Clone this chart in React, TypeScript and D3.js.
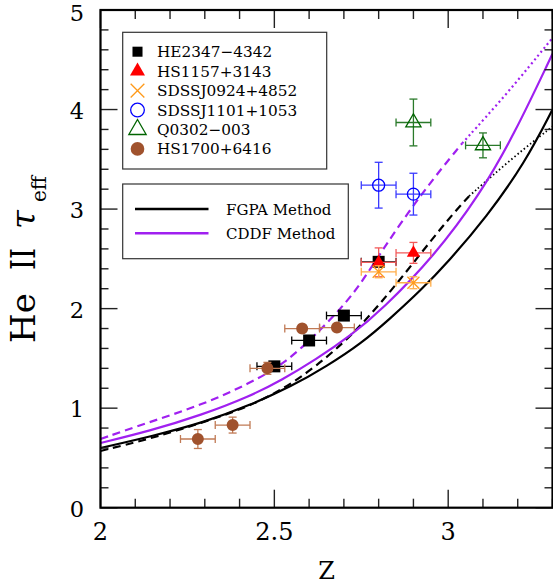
import * as d3 from "d3";

const W = 553;
const H = 586;

// plot frame in px
const X0 = 100.5, X1 = 552.5;
const Y0 = 507.7, Y1 = 10;

// axis
const Z_DOMAIN = [2, 3.3];
const TAU_DOMAIN = [0, 5];
const Z_LABELS = [2, 2.5, 3];
const TAU_LABELS = [0, 1, 2, 3, 4, 5];

// model curves
const fgpaZ = [2.0, 2.15, 2.3, 2.43, 2.55, 2.65, 2.75, 2.833, 2.92, 3.0, 3.11, 3.22, 3.3];
const fgpaTau = [0.6, 0.72, 0.86, 1.03, 1.22, 1.42, 1.65, 1.9, 2.18, 2.47, 2.92, 3.46, 4.0];

const cddfZ = [2.0, 2.14, 2.29, 2.43, 2.52, 2.62, 2.72, 2.81, 2.96, 3.09, 3.19, 3.3];
const cddfTau = [0.65, 0.77, 0.93, 1.12, 1.28, 1.49, 1.73, 1.99, 2.53, 3.14, 3.75, 4.56];

const fgpaDashZ = [2.0, 2.14, 2.29, 2.43, 2.53, 2.62, 2.72, 2.81, 2.9, 3.0, 3.06];
const fgpaDashTau = [0.57, 0.69, 0.85, 1.02, 1.2, 1.42, 1.72, 2.07, 2.46, 2.9, 3.13];
const fgpaDotZ = [3.06, 3.19, 3.3];
const fgpaDotTau = [3.13, 3.53, 3.83];

const cddfDashZ = [2.0, 2.14, 2.29, 2.43, 2.53, 2.62, 2.73, 2.81, 2.93, 3.04];
const cddfDashTau = [0.69, 0.86, 1.03, 1.25, 1.45, 1.74, 2.14, 2.59, 3.19, 3.66];
const cddfDotZ = [3.04, 3.17, 3.3];
const cddfDotTau = [3.66, 4.16, 4.72];

// observations
const he2347Z = [2.5, 2.6, 2.7, 2.8];
const he2347Tau = [1.42, 1.68, 1.93, 2.47];
const he2347Err = [0.04, 0.04, 0.04, 0.04];

const hs1157Z = [2.8, 2.9];
const hs1157Tau = [2.465, 2.56];
const hs1157Err = [0.145, 0.105];

const sdss0924Z = [2.8, 2.9];
const sdss0924Tau = [2.37, 2.26];
const sdss0924Err = [0.06, 0.06];

const sdss1101Z = [2.8, 2.9];
const sdss1101Tau = [3.24, 3.15];
const sdss1101Err = [0.23, 0.21];

const q0302Z = [2.9, 3.1];
const q0302Tau = [3.87, 3.64];
const q0302Err = [0.235, 0.125];

const hs1700Z = [2.28, 2.38, 2.48, 2.58, 2.68];
const hs1700Tau = [0.69, 0.83, 1.4, 1.8, 1.81];
const hs1700Err = [0.095, 0.08, 0.06, 0.04, 0.04];

const Z_ERR = 0.05;

const PURPLE = "#a020f0";
const SERIF = "DejaVu Serif, serif";

type Marker = "square" | "triangle" | "times" | "circle" | "openTriangle" | "dot";

interface Series {
  name: string;
  z: number[];
  tau: number[];
  err: number[];
  marker: Marker;
  color: string;
  barColor: string;
}

const SERIES: Series[] = [
  { name: "HE2347\u22124342", z: he2347Z, tau: he2347Tau, err: he2347Err, marker: "square", color: "#000", barColor: "#000" },
  { name: "HS1157+3143", z: hs1157Z, tau: hs1157Tau, err: hs1157Err, marker: "triangle", color: "#ff0000", barColor: "#f25a5a" },
  { name: "SDSSJ0924+4852", z: sdss0924Z, tau: sdss0924Tau, err: sdss0924Err, marker: "times", color: "#ff9a1a", barColor: "#ffae4a" },
  { name: "SDSSJ1101+1053", z: sdss1101Z, tau: sdss1101Tau, err: sdss1101Err, marker: "circle", color: "#0000ff", barColor: "#3a3aff" },
  { name: "Q0302\u2212003", z: q0302Z, tau: q0302Tau, err: q0302Err, marker: "openTriangle", color: "#006400", barColor: "#2a7a2a" },
  { name: "HS1700+6416", z: hs1700Z, tau: hs1700Tau, err: hs1700Err, marker: "dot", color: "#a0522d", barColor: "#c07a55" },
];

const x = d3.scaleLinear().domain(Z_DOMAIN).range([X0, X1]);
const y = d3.scaleLinear().domain(TAU_DOMAIN).range([Y0, Y1]);

// basis spline keeps the hand-read curves smooth
const line = d3
  .line<[number, number]>()
  .x((d) => x(d[0]))
  .y((d) => y(d[1]))
  .curve(d3.curveBasis);

const zip = (a: number[], b: number[]) => a.map((v, i) => [v, b[i]] as [number, number]);

// symbol path centred on 0,0
function symbolPath(m: Marker, scale = 1): { d: string; fill: boolean } {
  switch (m) {
    case "square":
      return { d: d3.symbol(d3.symbolSquare, 144 * scale)() ?? "", fill: true };
    case "triangle":
      return { d: d3.symbol(d3.symbolTriangle, 75 * scale)() ?? "", fill: true };
    case "openTriangle":
      return { d: d3.symbol(d3.symbolTriangle, 100 * scale)() ?? "", fill: false };
    case "circle":
      return { d: d3.symbol(d3.symbolCircle, 113 * scale)() ?? "", fill: false };
    case "dot":
      return { d: d3.symbol(d3.symbolCircle, 113 * scale)() ?? "", fill: true };
    case "times": {
      const r = 6 * Math.sqrt(scale);
      return { d: `M${-r},${-r}L${r},${r}M${-r},${r}L${r},${-r}`, fill: false };
    }
  }
}

function MarkerGlyph({ m, color, cx, cy, scale = 1 }: { m: Marker; color: string; cx: number; cy: number; scale?: number }) {
  const { d, fill } = symbolPath(m, scale);
  return (
    <path
      d={d}
      transform={`translate(${cx},${cy})`}
      fill={fill ? color : "none"}
      stroke={color}
      strokeWidth={fill ? 0 : 1.3}
    />
  );
}

function SeriesMarks({ s }: { s: Series }) {
  const cap = 4;
  return (
    <g>
      {s.z.map((zv, i) => {
        const cx = x(zv), cy = y(s.tau[i]);
        const xl = x(zv - Z_ERR), xr = x(zv + Z_ERR);
        const yt = y(s.tau[i] + s.err[i]), yb = y(s.tau[i] - s.err[i]);
        return (
          <g key={i} stroke={s.barColor} strokeWidth={1.3} fill="none">
            <line x1={xl} x2={xr} y1={cy} y2={cy} />
            <line x1={xl} x2={xl} y1={cy - cap} y2={cy + cap} />
            <line x1={xr} x2={xr} y1={cy - cap} y2={cy + cap} />
            <line x1={cx} x2={cx} y1={yt} y2={yb} />
            <line x1={cx - cap} x2={cx + cap} y1={yt} y2={yt} />
            <line x1={cx - cap} x2={cx + cap} y1={yb} y2={yb} />
          </g>
        );
      })}
      {s.z.map((zv, i) => (
        <MarkerGlyph key={"m" + i} m={s.marker} color={s.color} cx={x(zv)} cy={y(s.tau[i])} />
      ))}
    </g>
  );
}

export default function App() {
  const zMinor = d3.range(20, 34).map((v) => v / 10);
  const tauMinor = d3.range(0, 26).map((v) => v / 5);
  const isMajorZ = (v: number) => Math.abs(v * 2 - Math.round(v * 2)) < 1e-6;
  const isMajorTau = (v: number) => Math.abs(v - Math.round(v)) < 1e-6;

  return (
    <div style={{ position: "fixed", left: 0, top: 0 }}>
      <svg width={W} height={H} style={{ display: "block", background: "#fff" }}>
        <defs>
          <clipPath id="plot-clip">
            <rect x={X0} y={Y1} width={X1 - X0} height={Y0 - Y1} />
          </clipPath>
        </defs>

        {/* model curves */}
        <g clipPath="url(#plot-clip)" fill="none">
          <path d={line(zip(fgpaZ, fgpaTau)) ?? ""} stroke="#000" strokeWidth={2.2} />
          <path d={line(zip(fgpaDashZ, fgpaDashTau)) ?? ""} stroke="#000" strokeWidth={2.2} strokeDasharray="8,5" />
          <path d={line(zip(fgpaDotZ, fgpaDotTau)) ?? ""} stroke="#000" strokeWidth={1.8} strokeDasharray="1.5,2.5" />
          <path d={line(zip(cddfZ, cddfTau)) ?? ""} stroke={PURPLE} strokeWidth={2.2} />
          <path d={line(zip(cddfDashZ, cddfDashTau)) ?? ""} stroke={PURPLE} strokeWidth={2.2} strokeDasharray="8,5" />
          <path d={line(zip(cddfDotZ, cddfDotTau)) ?? ""} stroke={PURPLE} strokeWidth={2.2} strokeDasharray="2,3" />
        </g>

        {/* data points */}
        {SERIES.map((s) => (
          <SeriesMarks key={s.name} s={s} />
        ))}

        {/* ticks, all four sides, pointing in */}
        <g stroke="#222" strokeWidth={1.4}>
          {zMinor.map((v) => {
            const len = isMajorZ(v) ? 18 : 9;
            return (
              <g key={"zt" + v}>
                <line x1={x(v)} x2={x(v)} y1={Y0} y2={Y0 - len} />
                <line x1={x(v)} x2={x(v)} y1={Y1} y2={Y1 + len} />
              </g>
            );
          })}
          {tauMinor.map((v) => {
            const len = isMajorTau(v) ? 17 : 8;
            return (
              <g key={"tt" + v}>
                <line x1={X0} x2={X0 + len} y1={y(v)} y2={y(v)} />
                <line x1={X1} x2={X1 - len} y1={y(v)} y2={y(v)} />
              </g>
            );
          })}
        </g>
        <rect x={X0} y={Y1} width={X1 - X0} height={Y0 - Y1} fill="none" stroke="#000" strokeWidth={2.2} />

        {/* tick labels */}
        <g fontFamily={SERIF} fill="#000">
          {Z_LABELS.map((v) => (
            <text key={"zl" + v} x={x(v)} y={540} textAnchor="middle" fontSize={24}>
              {String(v)}
            </text>
          ))}
          {TAU_LABELS.map((v) => (
            <text key={"tl" + v} x={84} y={Math.max(y(v) + 9, 21)} textAnchor="end" fontSize={22.5}>
              {String(v)}
            </text>
          ))}
        </g>

        {/* axis titles */}
        <text x={(X0 + X1) / 2} y={579} textAnchor="middle" fontFamily={SERIF} fontSize={24}>
          Z
        </text>
        <g transform="translate(35,343) rotate(-90)" fontFamily={SERIF} fill="#000">
          <text x={0} y={0} fontSize={34}>He</text>
          <text x={73} y={0} fontSize={34} textLength={22} lengthAdjust="spacingAndGlyphs">II</text>
          <text x={114} y={0} fontSize={34} fontStyle="italic">τ</text>
          <text x={141} y={11} fontSize={20}>eff</text>
        </g>

        {/* legend: observations */}
        <rect x={122.7} y={32.3} width={204} height={136.7} fill="#fff" stroke="#333" strokeWidth={1.2} />
        {SERIES.map((s, i) => {
          const cy = 51.7 + i * 19.45;
          return (
            <g key={"lg" + s.name}>
              <MarkerGlyph m={s.marker} color={s.color} cx={137.5} cy={cy} scale={s.marker === "square" ? 0.7 : 1.3} />
              <text x={157} y={cy + 5.5} fontFamily={SERIF} fontSize={15.3} fill="#000">
                {s.name}
              </text>
            </g>
          );
        })}

        {/* legend: models */}
        <rect x={122.7} y={184} width={225.6} height={74.7} fill="#fff" stroke="#333" strokeWidth={1.2} />
        <line x1={135} x2={208.5} y1={209} y2={209} stroke="#000" strokeWidth={2.4} />
        <line x1={135} x2={208.5} y1={233.3} y2={233.3} stroke={PURPLE} strokeWidth={2.4} />
        <text x={226} y={214.5} fontFamily={SERIF} fontSize={15} fill="#000">FGPA Method</text>
        <text x={226} y={238.8} fontFamily={SERIF} fontSize={15} fill="#000">CDDF Method</text>
      </svg>
    </div>
  );
}
